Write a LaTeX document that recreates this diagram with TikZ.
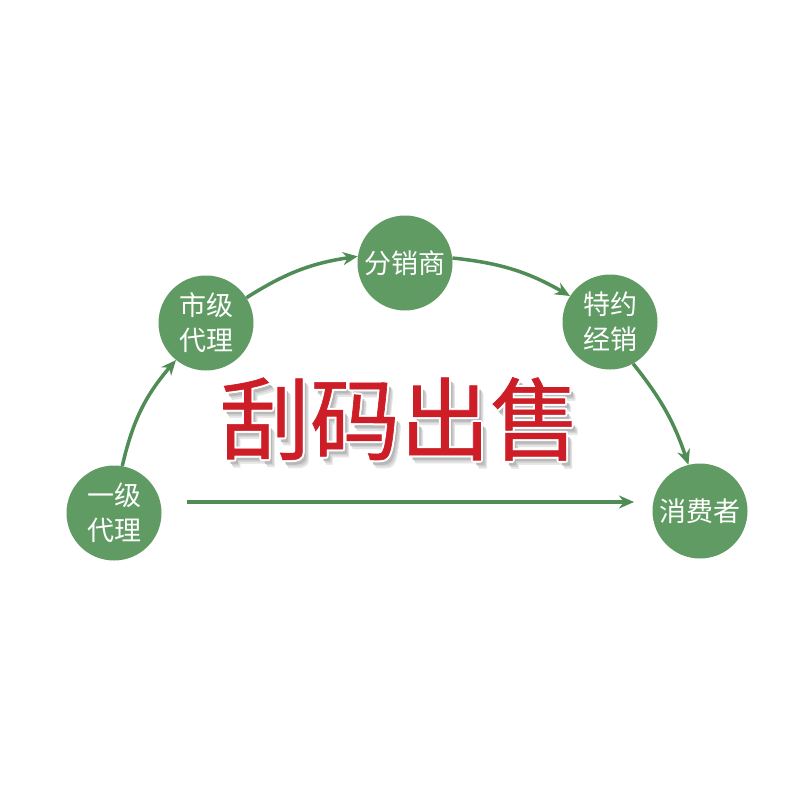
\documentclass[tikz,border=0pt]{standalone}
\usepackage{fontspec}
\newfontfamily\cjk{Noto Sans CJK SC}
\newfontfamily\cjkt{Noto Sans CJK SC}[FakeBold=0.7]
\usetikzlibrary{arrows.meta}
\definecolor{gnode}{RGB}{96,155,100}
\definecolor{garrow}{RGB}{80,140,85}
\definecolor{tred}{RGB}{205,30,40}
\newcommand\tlayer[3]{\makebox[0pt][l]{\hspace*{#1}\raisebox{#2}{\color{#3}刮码出售}}}
\tikzset{
  stage/.style={circle, fill=gnode, minimum size=95pt, inner sep=0pt, text=white,
    font=\cjk\fontsize{27}{35}\selectfont, align=center},
  flow/.style={draw=garrow, line width=3.5pt, -{Stealth[length=15pt,width=13pt]}},
  ttl/.style={font=\cjkt\fontsize{90}{94}\selectfont, inner sep=0pt}
}
\begin{document}
\begin{tikzpicture}[x=1pt,y=-1pt]
\useasboundingbox (0,0) rectangle (800,800);
\fill[white] (0,0) rectangle (800,800);
\node[stage] (yi) at (114,513) {一级\\代理};
\node[stage] (shi) at (206,323) {市级\\代理};
\node[stage] (fen) at (405,263) {分销商};
\node[stage] (te) at (610,322) {特约\\经销};
\node[stage] (xf) at (700,511) {消费者};
\draw[flow] (yi.80) to[bend left=14] (shi.231);
\draw[flow] (shi.32) to[bend left=12] (fen.172);
\draw[flow] (fen.6) to[bend left=12] (te.147);
\draw[flow] (te.299) to[bend left=10] (xf.104);
\coordinate (hs) at (187,502);
\coordinate (he) at (634,502);
\draw[flow] (hs) -- (he);
% title: soft shadow, white outline and red letters in one node
\node[ttl] (title) at (400,422) {%
  \tlayer{6pt}{-8pt}{black!10}\tlayer{5pt}{-6pt}{black!18}\tlayer{3.5pt}{-4.5pt}{black!28}%
  \tlayer{-2pt}{0pt}{white}\tlayer{2pt}{0pt}{white}\tlayer{0pt}{2pt}{white}\tlayer{0pt}{-2pt}{white}%
  \tlayer{-1.5pt}{1.5pt}{white}\tlayer{1.5pt}{1.5pt}{white}\tlayer{-1.5pt}{-1.5pt}{white}\tlayer{1.5pt}{-1.5pt}{white}%
  \color{tred}刮码出售};
\end{tikzpicture}
\end{document}
